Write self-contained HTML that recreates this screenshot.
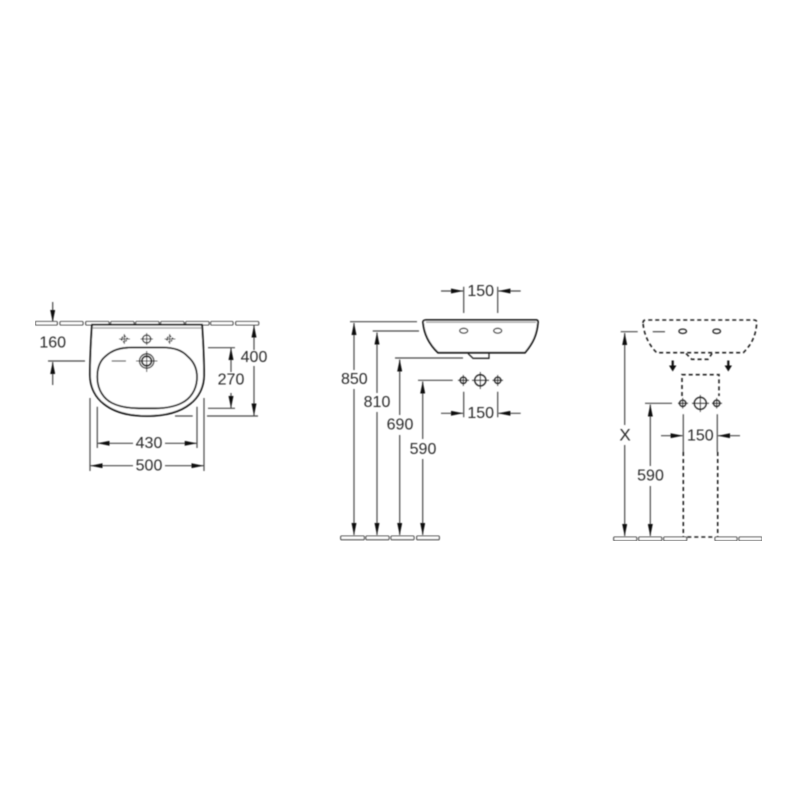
<!DOCTYPE html>
<html><head><meta charset="utf-8">
<style>
html,body{margin:0;padding:0;background:#fff;width:800px;height:800px;overflow:hidden}
svg{display:block}
text{font-family:"Liberation Sans",sans-serif;font-size:16px;fill:#2a2a2a;text-anchor:middle;dominant-baseline:central}
.d{stroke:#4a4a4a;stroke-width:1.2;fill:none}
.t{stroke:#333;stroke-width:1.1;fill:#fff}
.b{stroke:#111;stroke-width:1.8;fill:none}
.k{stroke:#222;stroke-width:1.3;fill:none}
.s{stroke:#222;stroke-width:1.6;fill:none;stroke-dasharray:4 3}
</style></head><body>
<svg width="800" height="800" viewBox="0 0 800 800" xmlns="http://www.w3.org/2000/svg">
<defs>
<marker id="a" viewBox="0 0 12 5" refX="12" refY="2.5" markerWidth="12" markerHeight="5" markerUnits="userSpaceOnUse" orient="auto"><path d="M0 0L12 2.5L0 5z" fill="#111"/></marker>
<filter id="f" x="0" y="0" width="100%" height="100%"><feGaussianBlur stdDeviation="0.45"/></filter>
</defs>
<g filter="url(#f)">
<!-- LEFT: tiles -->
<g class="t">
<rect x="35.3" y="321.5" width="22" height="3.5" rx="1"/><rect x="60" y="321.5" width="23" height="3.5" rx="1"/><rect x="85.7" y="321.5" width="23.3" height="3.5" rx="1"/><rect x="110.7" y="321.5" width="23.3" height="3.5" rx="1"/><rect x="135.7" y="321.5" width="23.3" height="3.5" rx="1"/><rect x="160.7" y="321.5" width="23.3" height="3.5" rx="1"/><rect x="185.7" y="321.5" width="23.3" height="3.5" rx="1"/><rect x="210.7" y="321.5" width="22.3" height="3.5" rx="1"/><rect x="235.7" y="321.5" width="23" height="3.5" rx="1"/>
</g>
<!-- LEFT: basin -->
<path d="M92 324.7H202C203 340 204 358 204 375C204 388 198 398 190 404C180 412 166 416 147 416C128 416 114 412 104 404C96 398 90 388 90 375C90 358 91 340 92 324.7Z" fill="#fff" stroke="#111" stroke-width="1.8"/>
<path d="M93 328H201" stroke="#999" stroke-width="1.2"/>
<path d="M97.3 377C97.3 367 100 361 105 356.7C112 350 120 347.5 132 347.5H162C174 347.5 182 350 188 356.7C194 362 197 368 197 377C197 390 190 399 181.7 403C174 407 166 408.3 155 408.3H139C128 408.3 120 407 112 403C104 399 97.3 390 97.3 377Z" class="b"/>
<path d="M111.7 361H126" class="d"/>
<g class="k">
<circle cx="146.7" cy="361" r="7.2"/><circle cx="146.7" cy="361" r="4.8" stroke-width="1.8"/>
<path d="M136 361H157.5M146.7 351V372" stroke-width=".9"/>
<circle cx="146.7" cy="339" r="4"/><path d="M140.5 339H153M146.7 333V345" stroke-width=".9"/>
<path d="M124.3 335.5L127.8 339L124.3 342.5L120.8 339Z" stroke-dasharray="2 1.2"/><path d="M119 339H130M124.3 334V344" stroke-width=".8"/>
<path d="M169.7 335.5L173.2 339L169.7 342.5L166.2 339Z" stroke-dasharray="2 1.2"/><path d="M164.5 339H175.5M169.7 334V344" stroke-width=".8"/>
</g>
<!-- LEFT dims -->
<g class="d">
<path d="M52.7 302V322" marker-end="url(#a)"/>
<path d="M48 361H85"/>
<path d="M52.7 385V362" marker-end="url(#a)"/>
<path d="M208 347.7H235M208 408.3H235"/>
<path d="M231 372V348" marker-end="url(#a)"/>
<path d="M231 393V408" marker-end="url(#a)"/>
<path d="M254 350V325.5" marker-end="url(#a)"/>
<path d="M254 366V415.5" marker-end="url(#a)"/>
<path d="M175 416H192.7M207 416H258"/>
<path d="M97.3 406.7V448M197 406.7V448"/>
<path d="M133 443.3H97.5" marker-end="url(#a)"/>
<path d="M165 443.3H196.7" marker-end="url(#a)"/>
<path d="M90 398V471M204 398V471"/>
<path d="M133 465.7H90.5" marker-end="url(#a)"/>
<path d="M165 465.7H203.5" marker-end="url(#a)"/>
</g>
<text x="52.7" y="343">160</text>
<text x="231" y="380">270</text>
<text x="254" y="357.7">400</text>
<text x="149" y="443.5">430</text>
<text x="149" y="466">500</text>

<!-- MIDDLE basin -->
<path d="M423 322C423 321 424 320 426 320H536C537.5 320 538 321 538 322C537 335 533 343 525 352.7H438C430 345 424 335 423 322Z" fill="#fff" stroke="#111" stroke-width="1.8"/>
<path d="M426 322.3H536" stroke="#888" stroke-width="1"/>
<path d="M468 353.5L473 358.3H489V353.5" class="k"/>
<g class="k">
<ellipse cx="463.7" cy="330.7" rx="4" ry="2.4"/><ellipse cx="497.7" cy="330.7" rx="4" ry="2.4"/>
<circle cx="463.3" cy="380.3" r="3.2"/><path d="M458 380.3H469M463.3 375V386" stroke-width=".8"/>
<circle cx="497.7" cy="380.3" r="3.2"/><path d="M492.5 380.3H503M497.7 375V386" stroke-width=".8"/>
<circle cx="480.3" cy="380.3" r="5.6"/><path d="M472 380.3H489M480.3 372V389" stroke-width=".8"/>
</g>
<g class="d">
<path d="M463.7 286.7V313M497.7 286.7V313"/>
<path d="M441 291H463" marker-end="url(#a)"/>
<path d="M520.7 291H498.4" marker-end="url(#a)"/>
<path d="M463.7 391.7V417.3M497.7 391.7V417.3"/>
<path d="M441 413.3H463" marker-end="url(#a)"/>
<path d="M520.7 413.3H498.4" marker-end="url(#a)"/>
<path d="M350 321.7H417M372.7 331H419M395 358H463M418 380.3H452.7"/>
<path d="M354 370V323" marker-end="url(#a)"/><path d="M354 389V535" marker-end="url(#a)"/>
<path d="M377 393V332.5" marker-end="url(#a)"/><path d="M377 412V535" marker-end="url(#a)"/>
<path d="M399.7 415V359.5" marker-end="url(#a)"/><path d="M399.7 435V535" marker-end="url(#a)"/>
<path d="M422.7 439V381.5" marker-end="url(#a)"/><path d="M422.7 459V535" marker-end="url(#a)"/>
</g>
<text x="480.7" y="291.5">150</text>
<text x="480.7" y="413.5">150</text>
<text x="354.3" y="379.7">850</text>
<text x="377" y="402.7">810</text>
<text x="400" y="425">690</text>
<text x="423" y="449.5">590</text>
<g class="t">
<rect x="340.7" y="536" width="23.6" height="3.7" rx="1"/><rect x="366" y="536" width="23" height="3.7" rx="1"/><rect x="391" y="536" width="23" height="3.7" rx="1"/><rect x="416.7" y="536" width="22.6" height="3.7" rx="1"/>
</g>

<!-- RIGHT basin dashed -->
<path d="M643 323C643 321 644 320 646 320H754C756 320 757 321 756.7 323C756 335 752 344 743.3 352.7H656.7C649 345 644 335 643 323Z" class="s"/>
<path d="M686 353.5L691.7 359.3H708L712 353.5" class="s"/>
<g class="k">
<ellipse cx="682.7" cy="331.3" rx="3.8" ry="2.2"/><ellipse cx="716.7" cy="331.3" rx="3.8" ry="2.2"/>
<circle cx="682.7" cy="403.3" r="3.2"/><path d="M678 403.3H688M682.7 398V408.5" stroke-width=".8"/>
<circle cx="716.7" cy="403.3" r="3.2"/><path d="M712 403.3H722M716.7 398V408.5" stroke-width=".8"/>
<circle cx="700.3" cy="403.3" r="6"/><path d="M692 403.3H709M700.3 395V412" stroke-width=".8"/>
</g>
<path d="M652.7 331.7H665" class="d"/>
<path d="M672.7 360.5V366M728.3 360.5V366" stroke="#111" stroke-width="2.2"/>
<path d="M669 365.5H676.4L672.7 371.5ZM724.6 365.5H732L728.3 371.5Z" fill="#111"/>
<path d="M682 396V374.7H719V396" class="s"/>
<path d="M683.3 452V537M717.7 452V537M687.3 537H715" class="s"/>
<g class="d">
<path d="M620.7 331.7H637.7M645 403.3H672"/>
<path d="M624.7 425V333" marker-end="url(#a)"/><path d="M624.7 445V536" marker-end="url(#a)"/>
<path d="M650.3 466V404.5" marker-end="url(#a)"/><path d="M650.3 486V536" marker-end="url(#a)"/>
<path d="M683.3 414.3V452M717.3 414.3V452"/>
<path d="M661 435.7H682.6" marker-end="url(#a)"/>
<path d="M740 435.7H718" marker-end="url(#a)"/>
</g>
<text x="625" y="435" style="font-size:17px">X</text>
<text x="650.5" y="476">590</text>
<text x="700.3" y="436">150</text>
<g class="t">
<rect x="613.7" y="537" width="23" height="3.8" rx="1"/><rect x="638.7" y="537" width="23" height="3.8" rx="1"/><rect x="663.7" y="537" width="23" height="3.8" rx="1"/><rect x="715" y="537" width="22" height="3.8" rx="1"/><rect x="739" y="537" width="23" height="3.8" rx="1"/>
</g>
</g>
</svg>
</body></html>
